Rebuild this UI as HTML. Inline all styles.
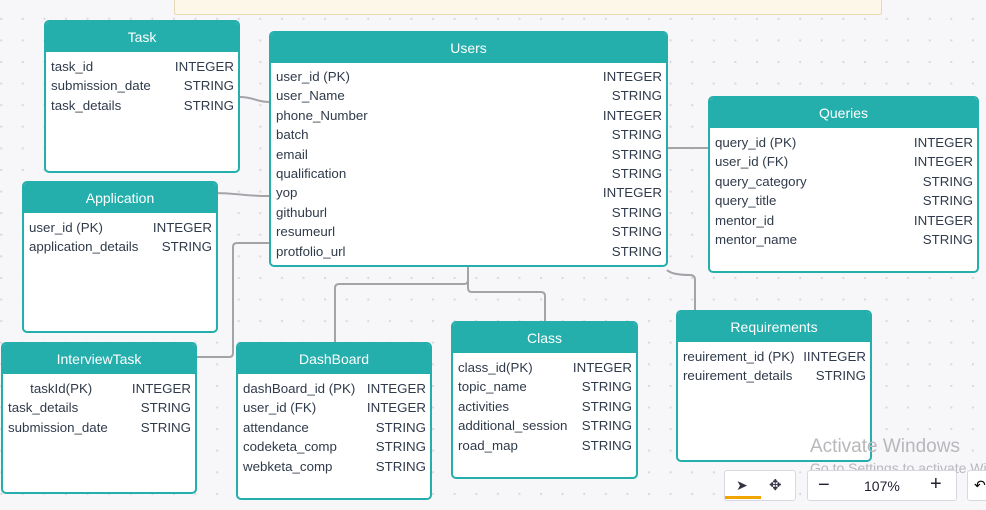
<!DOCTYPE html>
<html><head><meta charset="utf-8"><style>
body{margin:0;width:986px;height:510px;overflow:hidden;background:#f7f7fa;font-family:"Liberation Sans","DejaVu Sans",sans-serif;position:relative}
.bg{position:absolute;inset:0;background-image:radial-gradient(#d8d8e0 1px,transparent 1.3px);background-size:21.6px 21.6px;background-position:12px 8px}
.t{position:absolute;background:#fff;border:2px solid #24aeac;border-radius:5px;box-sizing:border-box;overflow:hidden}
.h{background:#24aeac;color:#fff;text-align:center;font-size:14px;height:30px;line-height:30px}
.r{display:flex;justify-content:space-between;font-size:13.3px;color:#2f3a4a;height:19.4px;line-height:19.4px;padding:0 4px 0 5px}
svg{position:absolute;left:0;top:0}
</style></head><body>
<div class="bg"></div>
<div style="position:absolute;left:174px;top:-2px;width:706px;height:15px;background:#fdf7ea;border:1px solid #e6d8b2;border-radius:2px"></div>
<svg width="986" height="510"><g fill="none" stroke="#a3a3a8" stroke-width="2">
<path d="M239 97 C255 97,255 102,270 102"/>
<path d="M213 193 C240 193,240 196,270 196"/>
<path d="M270 243 H237 Q233 243 233 247 V353 Q233 357 229 357 H196"/>
<path d="M468 266 V280 Q468 284 464 284 H339 Q335 284 335 288 V342"/>
<path d="M468 266 V288 Q468 292 472 292 H541 Q545 292 545 296 V321"/>
<path d="M667 148 H709"/>
<path d="M667 270 Q672 275 690 275 Q695 275 695 280 V310"/>
</g></svg>
<div class="t" style="left:44px;top:20px;width:196px;height:153px"><div class="h">Task</div><div style="height:5px"></div>
<div class="r"><span>task_id</span><span>INTEGER</span></div><div class="r"><span>submission_date</span><span>STRING</span></div><div class="r"><span>task_details</span><span>STRING</span></div></div>
<div class="t" style="left:269px;top:31px;width:399px;height:236px"><div class="h">Users</div><div style="height:4px"></div>
<div class="r"><span>user_id (PK)</span><span>INTEGER</span></div><div class="r"><span>user_Name</span><span>STRING</span></div><div class="r"><span>phone_Number</span><span>INTEGER</span></div><div class="r"><span>batch</span><span>STRING</span></div><div class="r"><span>email</span><span>STRING</span></div><div class="r"><span>qualification</span><span>STRING</span></div><div class="r"><span>yop</span><span>INTEGER</span></div><div class="r"><span>githuburl</span><span>STRING</span></div><div class="r"><span>resumeurl</span><span>STRING</span></div><div class="r"><span>protfolio_url</span><span>STRING</span></div></div>
<div class="t" style="left:708px;top:96px;width:271px;height:177px"><div class="h">Queries</div><div style="height:5px"></div>
<div class="r"><span>query_id (PK)</span><span>INTEGER</span></div><div class="r"><span>user_id (FK)</span><span>INTEGER</span></div><div class="r"><span>query_category</span><span>STRING</span></div><div class="r"><span>query_title</span><span>STRING</span></div><div class="r"><span>mentor_id</span><span>INTEGER</span></div><div class="r"><span>mentor_name</span><span>STRING</span></div></div>
<div class="t" style="left:22px;top:181px;width:196px;height:152px"><div class="h">Application</div><div style="height:5px"></div>
<div class="r"><span>user_id (PK)</span><span>INTEGER</span></div><div class="r"><span>application_details</span><span>STRING</span></div></div>
<div class="t" style="left:1px;top:342px;width:196px;height:152px"><div class="h">InterviewTask</div><div style="height:5px"></div>
<div class="r"><span>&nbsp;&nbsp;&nbsp;&nbsp;&nbsp;&nbsp;taskId(PK)</span><span>INTEGER</span></div><div class="r"><span>task_details</span><span>STRING</span></div><div class="r"><span>submission_date</span><span>STRING</span></div></div>
<div class="t" style="left:236px;top:342px;width:196px;height:158px"><div class="h">DashBoard</div><div style="height:5px"></div>
<div class="r"><span>dashBoard_id (PK)</span><span>INTEGER</span></div><div class="r"><span>user_id (FK)</span><span>INTEGER</span></div><div class="r"><span>attendance</span><span>STRING</span></div><div class="r"><span>codeketa_comp</span><span>STRING</span></div><div class="r"><span>webketa_comp</span><span>STRING</span></div></div>
<div class="t" style="left:451px;top:321px;width:187px;height:158px"><div class="h">Class</div><div style="height:5px"></div>
<div class="r"><span>class_id(PK)</span><span>INTEGER</span></div><div class="r"><span>topic_name</span><span>STRING</span></div><div class="r"><span>activities</span><span>STRING</span></div><div class="r"><span>additional_session</span><span>STRING</span></div><div class="r"><span>road_map</span><span>STRING</span></div></div>
<div class="t" style="left:676px;top:310px;width:196px;height:152px"><div class="h">Requirements</div><div style="height:5px"></div>
<div class="r"><span>reuirement_id (PK)</span><span>IINTEGER</span></div><div class="r"><span>reuirement_details</span><span>STRING</span></div></div>
<div style="position:absolute;left:810px;top:436px;font-size:19px;color:#b8b8bc">Activate Windows</div>
<div style="position:absolute;left:810px;top:460px;font-size:14px;color:#b8b8bc;white-space:nowrap">Go to Settings to activate Windows</div>
<div style="position:absolute;left:724px;top:470px;width:72px;height:31px;background:#fff;border:1px solid #d8d8e0;border-radius:3px;box-sizing:border-box">
<span style="position:absolute;left:11px;top:6px;font-size:14px;color:#334">➤</span><span style="position:absolute;left:44px;top:5px;font-size:15px;color:#334">✥</span>
<div style="position:absolute;left:0;bottom:1px;width:36px;height:3px;background:#f0a500"></div></div>
<div style="position:absolute;left:807px;top:470px;width:150px;height:31px;background:#fff;border:1px solid #d8d8e0;border-radius:3px;box-sizing:border-box;font-size:14px;color:#223">
<span style="position:absolute;left:10px;top:3px;font-size:20px">−</span><span style="position:absolute;left:56px;top:7px">107%</span><span style="position:absolute;left:122px;top:2px;font-size:20px">+</span></div>
<div style="position:absolute;left:967px;top:470px;width:30px;height:31px;background:#fff;border:1px solid #d8d8e0;border-radius:3px;box-sizing:border-box;font-size:14px;padding:6px 0 0 6px">↶</div>
</body></html>
